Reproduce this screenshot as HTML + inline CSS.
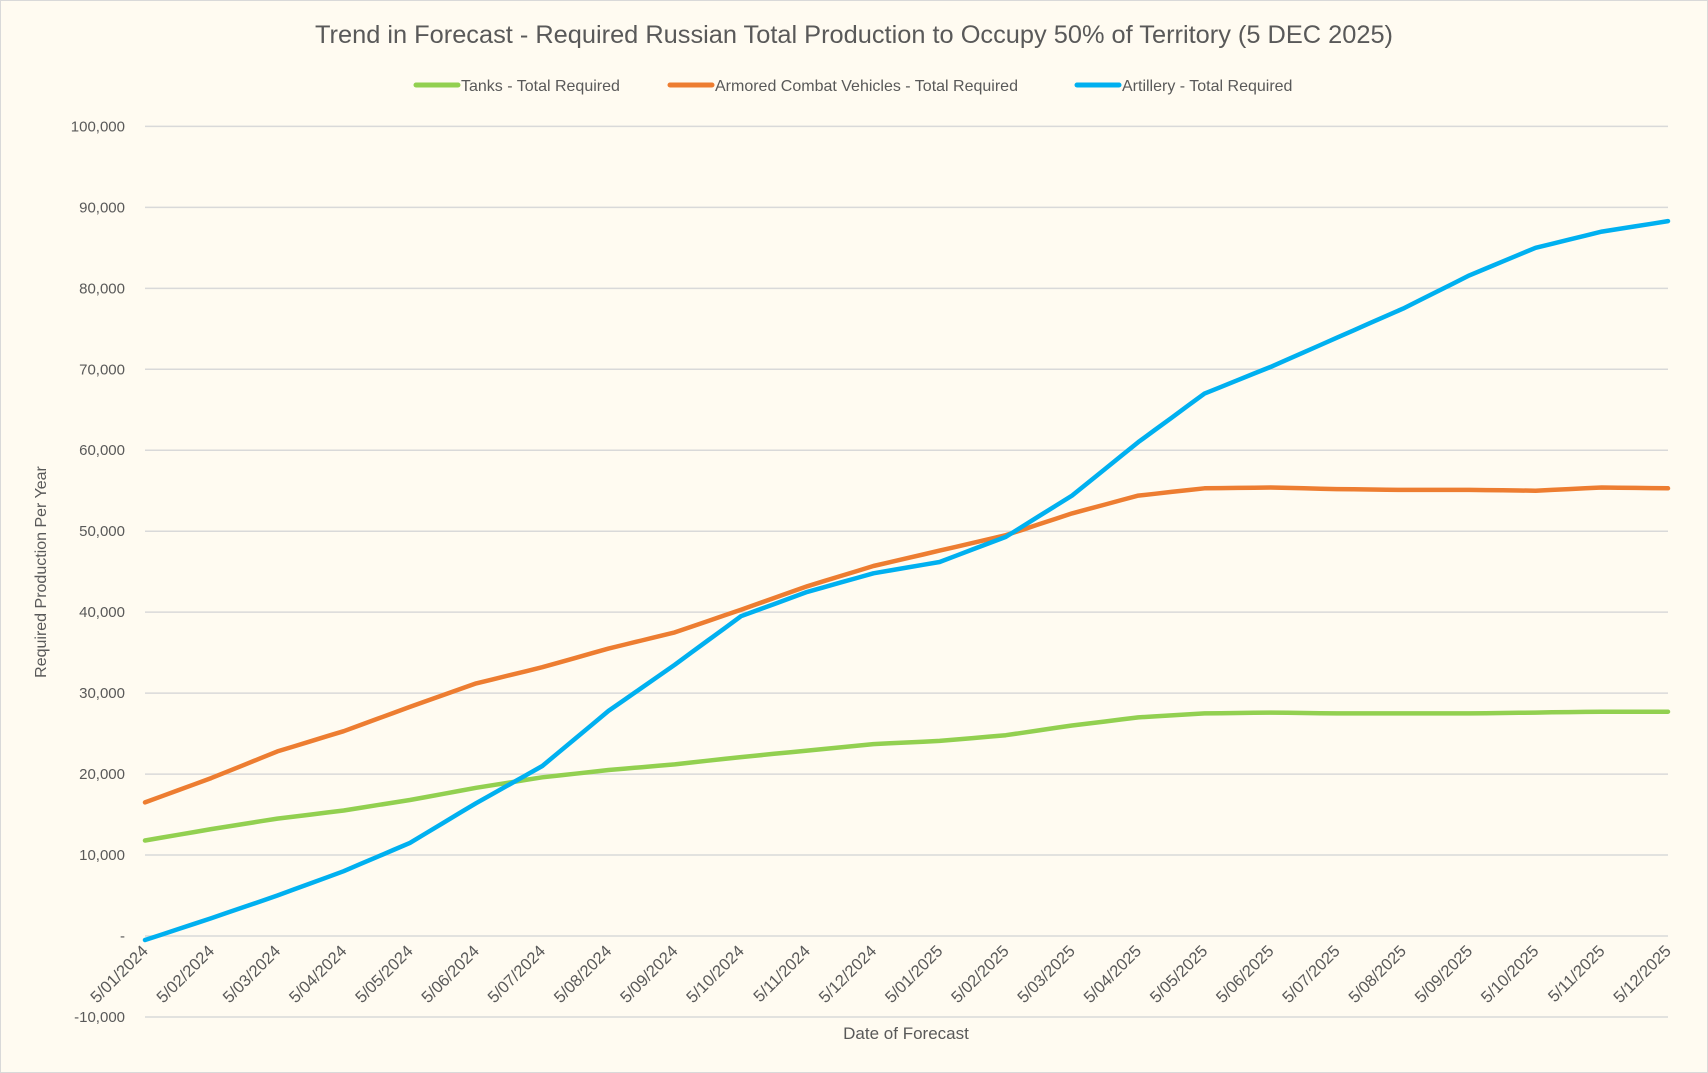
<!DOCTYPE html>
<html><head><meta charset="utf-8"><style>
html,body{margin:0;padding:0;background:#fffbf1;}
svg{display:block;font-family:"Liberation Sans",sans-serif;}
</style></head><body>
<svg id="c" width="1708" height="1073" viewBox="0 0 1708 1073" xmlns="http://www.w3.org/2000/svg">
<rect x="0.5" y="0.5" width="1707" height="1072" fill="#fffbf1" stroke="#d9d9d9"/>
<text x="854" y="43" text-anchor="middle" font-size="25" fill="#595959" textLength="1078" lengthAdjust="spacingAndGlyphs">Trend in Forecast - Required Russian Total Production to Occupy 50% of Territory (5 DEC 2025)</text>
<g font-size="16" fill="#595959">
<line x1="416" y1="85" x2="458" y2="85" stroke="#92d050" stroke-width="5" stroke-linecap="round"/>
<text x="461" y="91">Tanks - Total Required</text>
<line x1="670" y1="85" x2="712" y2="85" stroke="#ed7d31" stroke-width="5" stroke-linecap="round"/>
<text x="715" y="91">Armored Combat Vehicles - Total Required</text>
<line x1="1077" y1="85" x2="1119" y2="85" stroke="#00b0f0" stroke-width="5" stroke-linecap="round"/>
<text x="1122" y="91">Artillery - Total Required</text>
</g>
<g id="grid" stroke="#d9d9d9" stroke-width="1.5"></g>
<g id="ylab" font-size="15" fill="#595959" text-anchor="end"></g>
<g id="xlab" font-size="16.5" fill="#595959" text-anchor="end"></g>
<text x="906" y="1039" text-anchor="middle" font-size="17" fill="#595959">Date of Forecast</text>
<text transform="translate(46,572) rotate(-90)" text-anchor="middle" font-size="16" fill="#595959">Required Production Per Year</text>
<g id="series" fill="none" stroke-width="4.5" stroke-linejoin="round" stroke-linecap="round"></g>
</svg>
<script>
var NS="http://www.w3.org/2000/svg";
function el(p,t,a,txt){var e=document.createElementNS(NS,t);for(var k in a)e.setAttribute(k,a[k]);if(txt!=null)e.textContent=txt;document.getElementById(p).appendChild(e);}
var X0=145,X1=1668,Y0=936,S=8.096;
function yv(v){return Y0-v*S;}
for(var v=-10;v<=100;v+=10){
 el("grid","line",{x1:X0,x2:X1,y1:yv(v),y2:yv(v)});
 var t=v==0?"-":(v<0?"-10,000":(v==100?"100,000":v+",000"));
 el("ylab","text",{x:125,y:yv(v)+5},t);
}
var labs=["5/01/2024","5/02/2024","5/03/2024","5/04/2024","5/05/2024","5/06/2024","5/07/2024","5/08/2024","5/09/2024","5/10/2024","5/11/2024","5/12/2024","5/01/2025","5/02/2025","5/03/2025","5/04/2025","5/05/2025","5/06/2025","5/07/2025","5/08/2025","5/09/2025","5/10/2025","5/11/2025","5/12/2025"];
var dx=(X1-X0)/23;
for(var i=0;i<24;i++){var x=X0+i*dx+4,y=952;
 el("xlab","text",{x:x,y:y,transform:"rotate(-45 "+x+" "+y+")"},labs[i]);}
var T=[11.8,13.2,14.5,15.5,16.8,18.3,19.6,20.5,21.2,22.1,22.9,23.7,24.1,24.8,26.0,27.0,27.5,27.6,27.5,27.5,27.5,27.6,27.7,27.7];
var A=[16.5,19.5,22.8,25.3,28.3,31.2,33.2,35.5,37.5,40.3,43.2,45.7,47.6,49.5,52.2,54.4,55.3,55.4,55.2,55.1,55.1,55.0,55.4,55.3];
var R=[-0.5,2.2,5.0,8.0,11.5,16.4,21.0,27.8,33.5,39.5,42.5,44.8,46.2,49.3,54.4,61.0,67.0,70.3,73.9,77.5,81.6,85.0,87.0,88.3];
function pts(d){var s=[];for(var i=0;i<23;i++){for(var j=0;j<4;j++){var f=j/4;var v=d[i]+(d[i+1]-d[i])*f;s.push((X0+(i+f)*dx).toFixed(1)+","+yv(v).toFixed(1));}}s.push(X1+","+yv(d[23]).toFixed(1));return s.join(" ");}
el("series","polyline",{points:pts(T),stroke:"#92d050"});
el("series","polyline",{points:pts(A),stroke:"#ed7d31"});
el("series","polyline",{points:pts(R),stroke:"#00b0f0"});
</script>
</body></html>
